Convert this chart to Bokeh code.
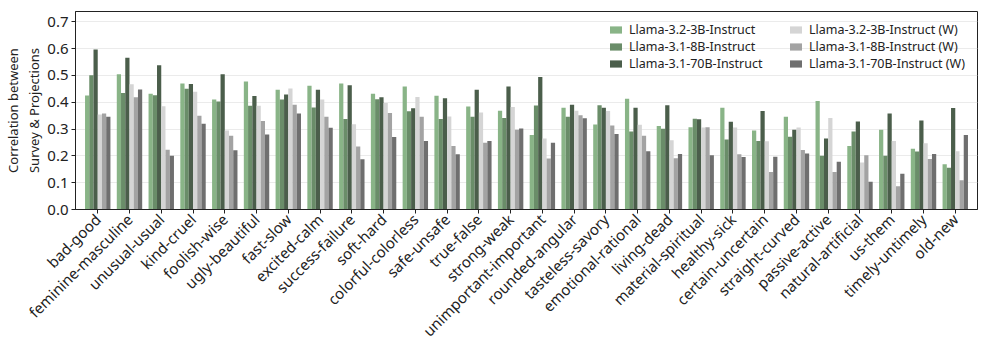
import math
from bokeh.plotting import figure
from bokeh.models import (ColumnDataSource, Range1d, FixedTicker, PrintfTickFormatter,
                          Legend, LegendItem)
from bokeh.transform import dodge
from bokeh.embed import file_html
from bokeh.resources import INLINE

categories = ["bad-good", "feminine-masculine", "unusual-usual", "kind-cruel", "foolish-wise",
              "ugly-beautiful", "fast-slow", "excited-calm", "success-failure", "soft-hard",
              "colorful-colorless", "safe-unsafe", "true-false", "strong-weak",
              "unimportant-important", "rounded-angular", "tasteless-savory", "emotional-rational",
              "living-dead", "material-spiritual", "healthy-sick", "certain-uncertain",
              "straight-curved", "passive-active", "natural-artificial", "us-them",
              "timely-untimely", "old-new"]

series_names = ["Llama-3.2-3B-Instruct", "Llama-3.1-8B-Instruct", "Llama-3.1-70B-Instruct",
                "Llama-3.2-3B-Instruct (W)", "Llama-3.1-8B-Instruct (W)", "Llama-3.1-70B-Instruct (W)"]

llama_3b = [0.425, 0.504, 0.431, 0.470, 0.410, 0.477, 0.446, 0.461, 0.470, 0.431, 0.458, 0.424,
            0.384, 0.368, 0.278, 0.379, 0.317, 0.413, 0.311, 0.307, 0.379, 0.294, 0.346, 0.404,
            0.237, 0.297, 0.226, 0.169]
llama_8b = [0.500, 0.434, 0.426, 0.450, 0.403, 0.387, 0.410, 0.380, 0.337, 0.411, 0.366, 0.337,
            0.346, 0.341, 0.388, 0.346, 0.389, 0.291, 0.301, 0.338, 0.261, 0.255, 0.271, 0.200,
            0.291, 0.200, 0.216, 0.156]
llama_70b = [0.596, 0.566, 0.538, 0.468, 0.504, 0.423, 0.429, 0.446, 0.463, 0.418, 0.377, 0.415,
             0.446, 0.458, 0.494, 0.390, 0.379, 0.379, 0.389, 0.336, 0.327, 0.367, 0.297, 0.265,
             0.328, 0.358, 0.332, 0.378]
llama_3b_w = [0.354, 0.467, 0.385, 0.439, 0.294, 0.387, 0.451, 0.410, 0.318, 0.397, 0.419, 0.347,
              0.362, 0.382, 0.265, 0.368, 0.367, 0.316, 0.258, 0.306, 0.306, 0.254, 0.306, 0.341,
              0.175, 0.255, 0.247, 0.217]
llama_8b_w = [0.358, 0.418, 0.223, 0.349, 0.275, 0.330, 0.390, 0.346, 0.235, 0.360, 0.346, 0.237,
              0.249, 0.297, 0.190, 0.351, 0.313, 0.275, 0.191, 0.307, 0.206, 0.140, 0.222, 0.140,
              0.202, 0.087, 0.188, 0.109]
llama_70b_w = [0.346, 0.447, 0.200, 0.320, 0.221, 0.280, 0.358, 0.305, 0.187, 0.270, 0.255, 0.206,
               0.255, 0.302, 0.249, 0.340, 0.281, 0.217, 0.207, 0.202, 0.196, 0.197, 0.209, 0.178,
               0.103, 0.133, 0.207, 0.278]

y_ticks = [0.0, 0.1, 0.2, 0.3, 0.4, 0.5, 0.6, 0.7]

colors = ["#89b487", "#6a8d69", "#4b5e4b", "#d5d5d5", "#a3a3a3", "#6f6f6f"]
FONT = "Noto Sans"

series = [llama_3b, llama_8b, llama_70b, llama_3b_w, llama_8b_w, llama_70b_w]
data = {"x": list(range(len(categories)))}
for i, s in enumerate(series):
    data[f"s{i}"] = s
source = ColumnDataSource(data)

p = figure(width=981, height=352, output_backend="svg", toolbar_location=None,
           x_range=Range1d(-0.7, len(categories) - 0.3), y_range=Range1d(0, 0.738),
           min_border_left=70, min_border_right=4, min_border_top=11, min_border_bottom=143)

n = len(series)
bw = 0.8 / n
renderers = []
for i in range(n):
    off = (i - (n - 1) / 2) * bw
    r = p.vbar(x=dodge("x", off), top=f"s{i}", width=bw, source=source,
               fill_color=colors[i], line_color=None)
    renderers.append(r)

p.outline_line_color = "#222222"
p.outline_line_width = 1
p.outline_line_alpha = 1

p.xgrid.grid_line_color = None
p.ygrid.grid_line_color = "#ebebeb"
p.ygrid.grid_line_width = 1

p.xaxis.ticker = FixedTicker(ticks=list(range(len(categories))))
p.xaxis.major_label_overrides = {i: c for i, c in enumerate(categories)}
p.xaxis.major_label_orientation = math.pi / 4
p.yaxis.ticker = FixedTicker(ticks=y_ticks)
p.yaxis.formatter = PrintfTickFormatter(format="%.1f")
p.yaxis.axis_label = "Correlation between\nSurvey & Projections"

for ax in (p.xaxis[0], p.yaxis[0]):
    ax.major_label_text_font = FONT
    ax.major_label_text_font_size = "15px"
    ax.major_label_text_color = "#222222"
    ax.axis_label_text_font = FONT
    ax.axis_label_text_font_size = "13px"
    ax.axis_label_text_font_style = "normal"
    ax.axis_label_text_color = "#222222"
    ax.axis_line_color = "#222222"
    ax.major_tick_line_color = "#222222"
    ax.major_tick_in = 0
    ax.major_tick_out = 4
    ax.minor_tick_line_color = None
    ax.major_label_standoff = 3

p.yaxis.axis_label_standoff = 1

def make_legend(idxs, loc):
    items = [LegendItem(label=series_names[i], renderers=[renderers[i]]) for i in idxs]
    lg = Legend(items=items, location=loc, orientation="vertical",
                glyph_width=15, glyph_height=9, label_height=16, spacing=0,
                label_standoff=6, padding=0, margin=0,
                border_line_alpha=0, background_fill_alpha=0,
                label_text_font=FONT, label_text_font_size="12.5px",
                label_text_color="#222222")
    return lg

p.add_layout(make_legend([0, 1, 2], (533, 137)))
p.add_layout(make_legend([3, 4, 5], (713, 137)))

open("out.html", "w").write(file_html(p, INLINE))
